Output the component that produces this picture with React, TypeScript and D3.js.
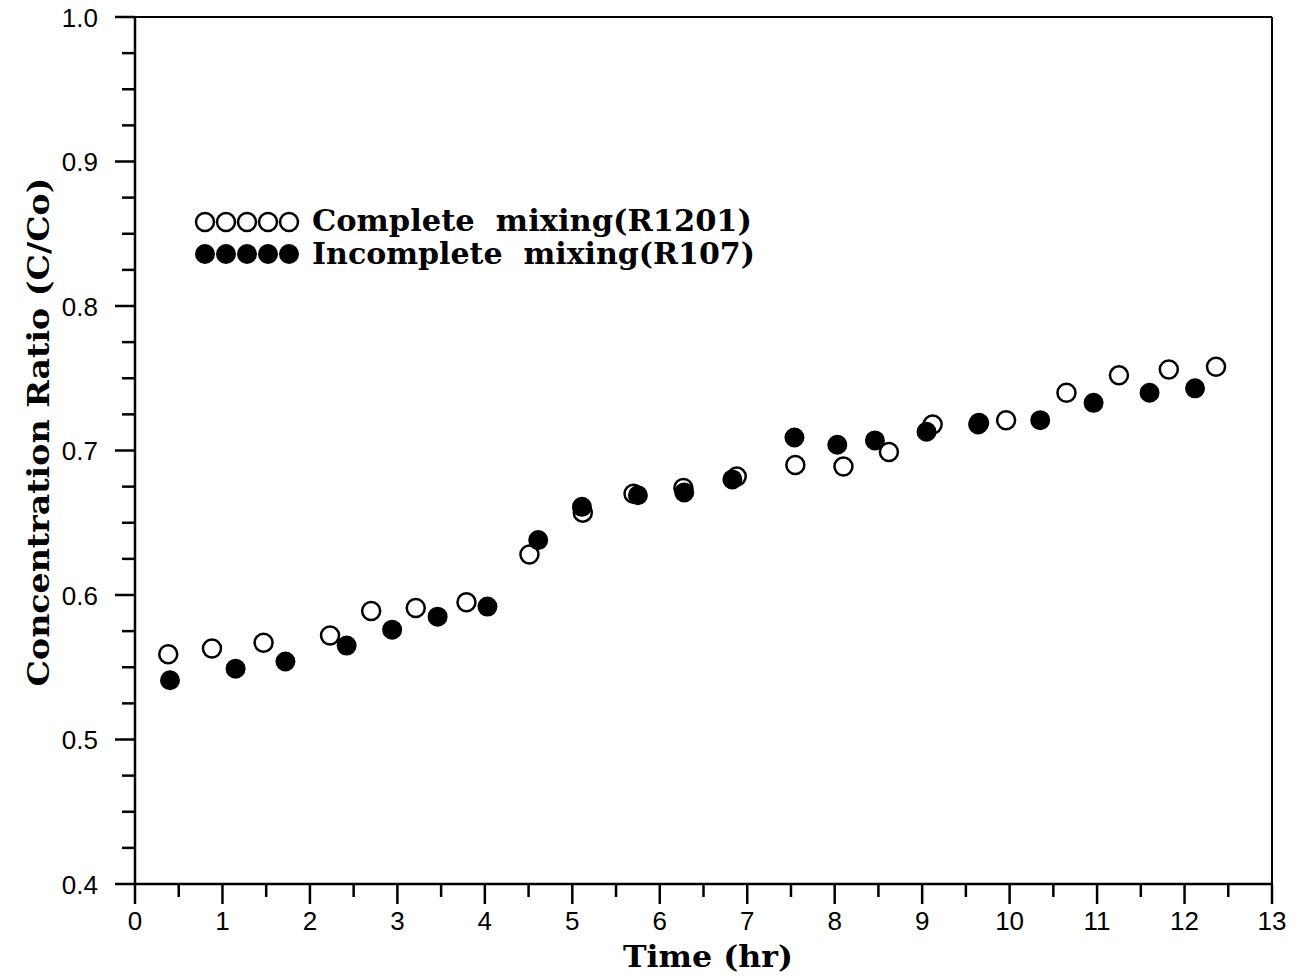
import React from "react";
import * as d3 from "d3";

const completeX = [0.38, 0.88, 1.47, 2.23, 2.70, 3.21, 3.79, 4.51, 5.12, 5.70, 6.27, 6.88, 7.55, 8.10, 8.62, 9.12, 9.65, 9.96, 10.65, 11.25, 11.82, 12.36];
const completeY = [0.559, 0.563, 0.567, 0.572, 0.589, 0.591, 0.595, 0.628, 0.657, 0.670, 0.674, 0.682, 0.690, 0.689, 0.699, 0.718, 0.719, 0.721, 0.740, 0.752, 0.756, 0.758];
const incompleteX = [0.40, 1.15, 1.72, 2.42, 2.94, 3.46, 4.03, 4.61, 5.11, 5.75, 6.28, 6.83, 7.54, 8.03, 8.46, 9.05, 9.64, 10.35, 10.96, 11.60, 12.12];
const incompleteY = [0.541, 0.549, 0.554, 0.565, 0.576, 0.585, 0.592, 0.638, 0.661, 0.669, 0.671, 0.680, 0.709, 0.704, 0.707, 0.713, 0.718, 0.721, 0.733, 0.740, 0.743];
const xTicks = [0, 1, 2, 3, 4, 5, 6, 7, 8, 9, 10, 11, 12, 13];
const yTicks = [0.4, 0.5, 0.6, 0.7, 0.8, 0.9, 1.0];
const legendLabels = ["Complete  mixing(R1201)", "Incomplete  mixing(R107)"];
const xTitle = "Time (hr)";
const yTitle = "Concentration Ratio (C/Co)";

const W = 1295, H = 980;
const L = 135, R = 1272, T = 17, B = 884;

export default function App() {
  const x = d3.scaleLinear().domain([0, 13]).range([L, R]);
  const y = d3.scaleLinear().domain([0.4, 1.0]).range([B, T]);
  const xMinor = d3.range(0, 13.001, 0.5).filter(v => Math.abs(v - Math.round(v)) > 0.01);
  const yMinor = d3.range(0.4, 1.0001, 0.025).filter(v => Math.abs(v * 10 - Math.round(v * 10)) > 0.01);
  const sans = "'Liberation Sans', Arial, sans-serif";
  const serif = "'DejaVu Serif', serif";
  const r = 9;
  const legendXs = [205, 226, 247, 268, 289];
  return (
    <svg width={W} height={H} style={{ position: "absolute", left: 0, top: 0, background: "#fff" }}>
      <rect x={0} y={0} width={W} height={H} fill="#fff" />
      {/* frame */}
      <line x1={L} x2={R} y1={T} y2={T} stroke="#000" strokeWidth={2} />
      <line x1={R} x2={R} y1={T} y2={B} stroke="#000" strokeWidth={2} />
      <line x1={L} x2={L} y1={T} y2={B} stroke="#000" strokeWidth={2.5} />
      <line x1={L} x2={R} y1={B} y2={B} stroke="#000" strokeWidth={2.5} />
      {xTicks.map(v => (
        <g key={"xt" + v}>
          <line x1={x(v)} x2={x(v)} y1={B} y2={B + 20} stroke="#000" strokeWidth={2.5} />
          <text x={x(v)} y={930} textAnchor="middle" fontFamily={sans} fontSize={26}>{v}</text>
        </g>
      ))}
      {xMinor.map(v => (
        <line key={"xm" + v} x1={x(v)} x2={x(v)} y1={B} y2={B + 13} stroke="#000" strokeWidth={2.5} />
      ))}
      {yTicks.map(v => (
        <g key={"yt" + v}>
          <line x1={L - 20} x2={L} y1={y(v)} y2={y(v)} stroke="#000" strokeWidth={2.5} />
          <text x={98} y={y(v) + 9.5} textAnchor="end" fontFamily={sans} fontSize={26}>{v.toFixed(1)}</text>
        </g>
      ))}
      {yMinor.map(v => (
        <line key={"ym" + v} x1={L - 13} x2={L} y1={y(v)} y2={y(v)} stroke="#000" strokeWidth={2.5} />
      ))}
      {/* data */}
      {completeX.map((v, i) => (
        <circle key={"c" + i} cx={x(v)} cy={y(completeY[i])} r={r} fill="#fff" stroke="#000" strokeWidth={2.5} />
      ))}
      {incompleteX.map((v, i) => (
        <circle key={"i" + i} cx={x(v)} cy={y(incompleteY[i])} r={r} fill="#000" stroke="#000" strokeWidth={2} />
      ))}
      {/* legend */}
      {legendXs.map((lx, i) => (
        <circle key={"lo" + i} cx={lx} cy={222} r={r} fill="#fff" stroke="#000" strokeWidth={2.5} />
      ))}
      {legendXs.map((lx, i) => (
        <circle key={"lf" + i} cx={lx} cy={254} r={r} fill="#000" stroke="#000" strokeWidth={2} />
      ))}
      <text x={312} y={231} fontFamily={serif} fontWeight="bold" fontSize={30} textLength={440} lengthAdjust="spacingAndGlyphs" style={{ whiteSpace: "pre" }}>{legendLabels[0]}</text>
      <text x={312} y={264} fontFamily={serif} fontWeight="bold" fontSize={30} textLength={443} lengthAdjust="spacingAndGlyphs" style={{ whiteSpace: "pre" }}>{legendLabels[1]}</text>
      {/* titles */}
      <text x={708} y={967} textAnchor="middle" fontFamily={serif} fontWeight="bold" fontSize={30} textLength={170} lengthAdjust="spacingAndGlyphs" style={{ whiteSpace: "pre" }}>{xTitle}</text>
      <text transform={`translate(49,432) rotate(-90)`} textAnchor="middle" fontFamily={serif} fontWeight="bold" fontSize={30} textLength={509} lengthAdjust="spacingAndGlyphs">{yTitle}</text>
    </svg>
  );
}
